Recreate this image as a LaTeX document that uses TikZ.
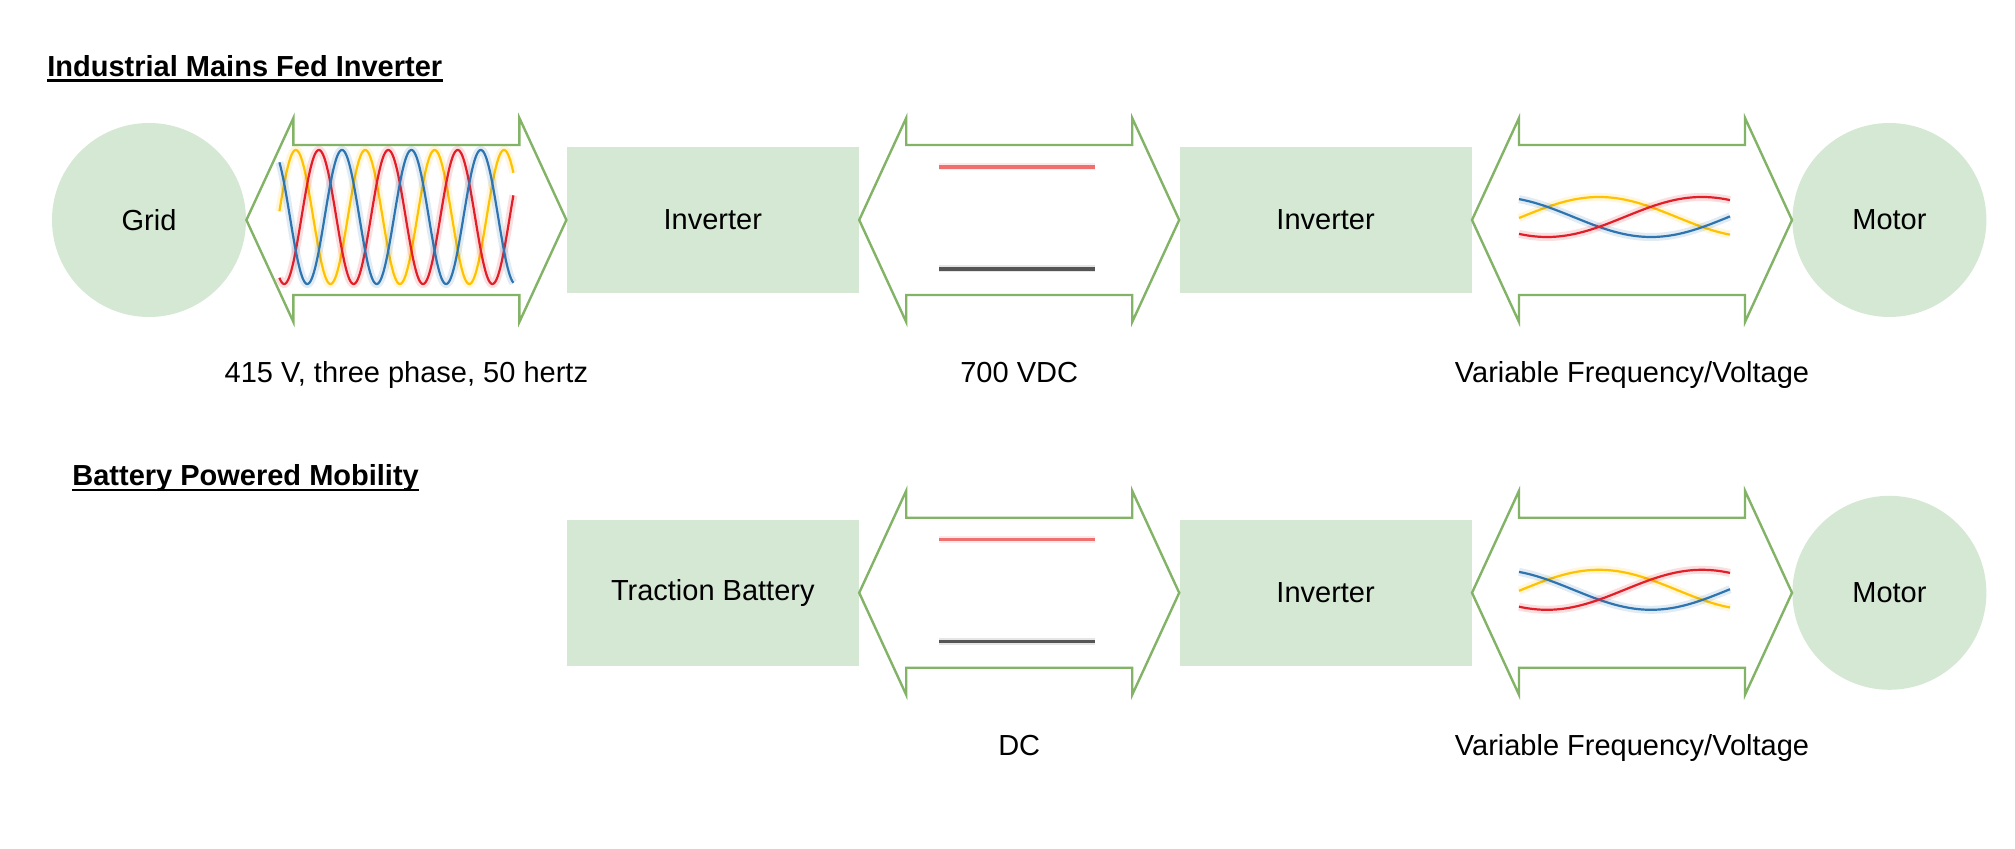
\documentclass[tikz,border=0pt]{standalone}
\usepackage{fontspec}
\setmainfont{Liberation Sans}
\usepackage{tikz}
\usetikzlibrary{positioning,calc}

\definecolor{boxfill}{RGB}{213,232,212}
\definecolor{arrowline}{RGB}{130,179,102}
\definecolor{phasey}{RGB}{255,194,0}
\definecolor{phaser}{RGB}{226,30,40}
\definecolor{phaseb}{RGB}{46,116,176}
\definecolor{dcplus}{RGB}{240,112,112}
\definecolor{dcminus}{RGB}{85,85,85}

% double arrow from one node to the next
\newcommand{\linkarrow}[2]{%
  \draw[link] (#1.east) -- ++(23.5pt,51pt) -- ++(0,-13.5pt)
    -- ($(#2.west)+(-23.5pt,37.5pt)$) -- ++(0,13.5pt) -- (#2.west)
    -- ++(-23.5pt,-51pt) -- ++(0,13.5pt)
    -- ($(#1.east)+(23.5pt,-37.5pt)$) -- ++(0,-13.5pt) -- cycle;}

\begin{document}
\begin{tikzpicture}[x=0.5pt, y=0.5pt,
    every node/.style={font=\fontsize{14.5pt}{17pt}\selectfont},
    source/.style={circle, fill=boxfill, minimum size=97pt, inner sep=0pt},
    unit/.style={rectangle, fill=boxfill, minimum width=146pt, minimum height=73pt, inner sep=0pt},
    caption/.style={anchor=base, inner sep=0pt},
    heading/.style={anchor=base west, inner sep=0pt, font=\fontsize{14.5pt}{17pt}\selectfont\bfseries},
    link/.style={draw=arrowline, line width=1.2pt, fill=white},
    phaseline/.style={draw=#1, line width=1.1pt, preaction={draw=#1, draw opacity=0.14, line width=4pt}},
    dcline/.style={draw=#1, line width=1.6pt, preaction={draw=#1, draw opacity=0.15, line width=3.5pt}}]
    \useasboundingbox (0,0) rectangle (2015,-849);

    % Industrial Mains Fed Inverter
    \node[heading] (head1) at (47,-76.5) {Industrial Mains Fed Inverter};
    \draw[line width=1.2pt] ($(head1.base west)+(0,-4)$) -- ($(head1.base east)+(0,-4)$);

    \node[source] (grid) at (149,-220) {Grid};
    \node[unit] (inv1) [right=160pt of grid] {Inverter};
    \node[unit] (inv2) [right=160pt of inv1] {Inverter};
    \node[source] (motor1) [right=160pt of inv2] {Motor};

    \linkarrow{grid}{inv1}
    \linkarrow{inv1}{inv2}
    \linkarrow{inv2}{motor1}
    \coordinate (mid1) at ($(grid.east)!0.5!(inv1.west)$);
    \coordinate (mid2) at ($(inv1.east)!0.5!(inv2.west)$);
    \coordinate (mid3) at ($(inv2.east)!0.5!(motor1.west)$);

    % 50 hertz mains
    \draw[phaseline=phasey, shift={(mid1)}] plot[domain=-127:107, samples=300, smooth] (\x, {3+67*cos((\x+110.6)*5.187)});
    \draw[phaseline=phaser, shift={(mid1)}] plot[domain=-127:107, samples=300, smooth] (\x, {3+67*cos((\x+87.5)*5.187)});
    \draw[phaseline=phaseb, shift={(mid1)}] plot[domain=-127:107, samples=300, smooth] (\x, {3+67*cos((\x+64.4)*5.187)});

    % DC link
    \draw[dcline=dcplus] ($(mid2)+(-80,53)$) -- ($(mid2)+(76,53)$);
    \draw[dcline=dcminus] ($(mid2)+(-80,-49)$) -- ($(mid2)+(76,-49)$);

    % variable frequency
    \draw[phaseline=phasey, shift={(mid3)}] plot[domain=-113:98, samples=100, smooth] (\x, {3+20*cos((\x+33)*1.161)});
    \draw[phaseline=phaseb, shift={(mid3)}] plot[domain=-113:98, samples=100, smooth] (\x, {3+20*cos((\x+136)*1.161)});
    \draw[phaseline=phaser, shift={(mid3)}] plot[domain=-113:98, samples=100, smooth] (\x, {3+20*cos((\x-70)*1.161)});

    \node[caption] (cap1) at ($(mid1)+(0,-163)$) {415 V, three phase, 50 hertz};
    \node[caption] (cap2) at ($(mid2)+(0,-163)$) {700 VDC};
    \node[caption] (cap3) at ($(mid3)+(0,-163)$) {Variable Frequency/Voltage};

    % Battery Powered Mobility
    \node[heading] (head2) at (72,-486) {Battery Powered Mobility};
    \draw[line width=1.2pt] ($(head2.base west)+(0,-4)$) -- ($(head2.base east)+(0,-4)$);

    \node[unit] (batt) [below=113pt of inv1] {Traction Battery};
    \node[unit] (inv3) [right=160pt of batt] {Inverter};
    \node[source] (motor2) [right=160pt of inv3] {Motor};

    \linkarrow{batt}{inv3}
    \linkarrow{inv3}{motor2}
    \coordinate (mid4) at ($(batt.east)!0.5!(inv3.west)$);
    \coordinate (mid5) at ($(inv3.east)!0.5!(motor2.west)$);

    \draw[dcline=dcplus] ($(mid4)+(-80,53)$) -- ($(mid4)+(76,53)$);
    \draw[dcline=dcminus] ($(mid4)+(-80,-49)$) -- ($(mid4)+(76,-49)$);

    \draw[phaseline=phasey, shift={(mid5)}] plot[domain=-113:98, samples=100, smooth] (\x, {3+20*cos((\x+33)*1.161)});
    \draw[phaseline=phaseb, shift={(mid5)}] plot[domain=-113:98, samples=100, smooth] (\x, {3+20*cos((\x+136)*1.161)});
    \draw[phaseline=phaser, shift={(mid5)}] plot[domain=-113:98, samples=100, smooth] (\x, {3+20*cos((\x-70)*1.161)});

    \node[caption] (cap4) at ($(mid4)+(0,-163)$) {DC};
    \node[caption] (cap5) at ($(mid5)+(0,-163)$) {Variable Frequency/Voltage};
\end{tikzpicture}
\end{document}
